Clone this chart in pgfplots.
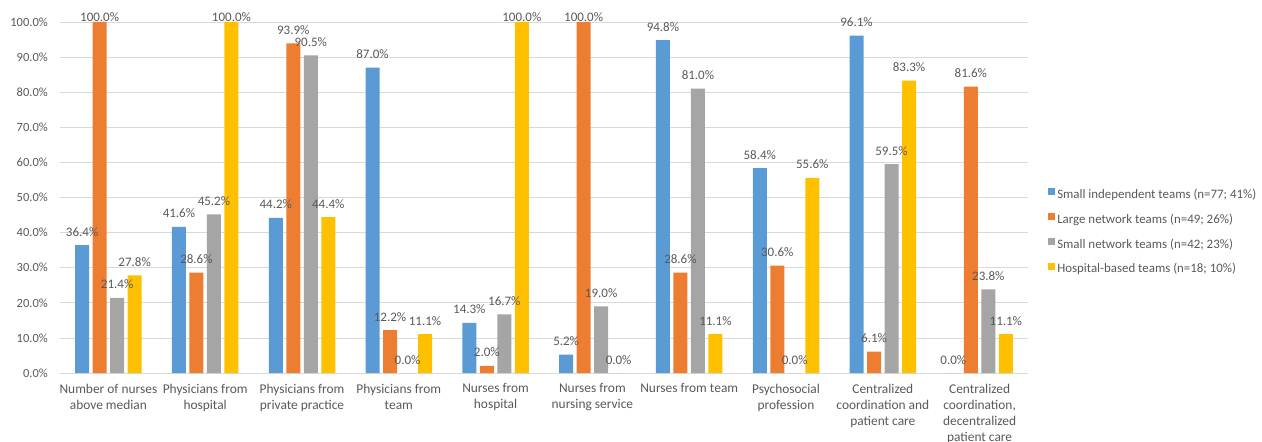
\documentclass[border=0pt]{standalone}
\usepackage{pgfplots}
\pgfplotsset{compat=1.18}
\usepackage{fontspec}
\setmainfont{Carlito}
\definecolor{cblue}{HTML}{5B9BD5}
\definecolor{corange}{HTML}{ED7D31}
\definecolor{cgray}{HTML}{A5A5A5}
\definecolor{cgold}{HTML}{FFC000}
\definecolor{textgray}{HTML}{595959}
\definecolor{gridgray}{HTML}{D9D9D9}
\begin{document}
\begin{tikzpicture}
\begin{axis}[name=ax, scale only axis, width=968pt, height=351pt,
  ybar=3.5pt, bar width=14pt,
  xmin=-0.5, xmax=9.5, ymin=0, ymax=100,
  xtick={0,...,9},
  xticklabels={{Number of nurses\\above median},{Physicians from\\hospital},{Physicians from\\private practice},{Physicians from\\team},{Nurses from\\hospital},{Nurses from\\nursing service},{Nurses from team},{Psychosocial\\profession},{Centralized\\coordination and\\patient care},{Centralized\\coordination,\\decentralized\\patient care}},
  ytick={0,10,...,100},
  ymajorgrids, major grid style={color=gridgray, line width=0.75pt},
  axis line style={draw=none},
  major tick length=0pt,
  /pgf/number format/assume math mode=true,
  yticklabel={\pgfmathprintnumber[fixed,fixed zerofill,precision=1]{\tick}\%},
  yticklabel style={font=\fontsize{12.5}{15}\selectfont, text=textgray, inner sep=0pt, xshift=-12pt},
  xticklabel style={font=\fontsize{13.4}{16}\selectfont, text=textgray, align=center, inner sep=0pt, yshift=-10.5pt, anchor=north},
  nodes near coords={\pgfmathprintnumber[fixed,fixed zerofill,precision=1]{\pgfplotspointmeta}\%},
  visualization depends on=rawy\as\rawy,
  every node near coord/.append style={font=\fontsize{13}{15}\selectfont, text=textgray, anchor=base, inner sep=0pt, yshift={ifthenelse(\rawy>99.9,0,9)*1pt}},
  legend style={at={(1.0207,0.4014)}, anchor=west, draw=none, fill=none, inner sep=0pt,
    font=\fontsize{12.9}{15}\selectfont, text=textgray, row sep=11.8pt,
    nodes={inner sep=0pt, text height=9pt, text depth=3pt},
    /tikz/every odd column/.append style={column sep=2pt}},
  legend cell align=left,
  legend image code/.code={\fill[#1] (0pt,0pt) rectangle (7pt,7pt);},
]
\addplot[fill=cblue, draw=none] coordinates {(0,36.4) (1,41.6) (2,44.2) (3,87.0) (4,14.3) (5,5.2) (6,94.8) (7,58.4) (8,96.1) (9,0.0)};
\addplot[fill=corange, draw=none] coordinates {(0,100.0) (1,28.6) (2,93.9) (3,12.2) (4,2.0) (5,100.0) (6,28.6) (7,30.6) (8,6.1) (9,81.6)};
\addplot[fill=cgray, draw=none] coordinates {(0,21.4) (1,45.2) (2,90.5) (3,0.0) (4,16.7) (5,19.0) (6,81.0) (7,0.0) (8,59.5) (9,23.8)};
\addplot[fill=cgold, draw=none] coordinates {(0,27.8) (1,100.0) (2,44.4) (3,11.1) (4,100.0) (5,0.0) (6,11.1) (7,55.6) (8,83.3) (9,11.1)};
\legend{Small independent teams (n=77; 41\%),Large network teams (n=49; 26\%),Small network teams (n=42; 23\%),Hospital-based teams (n=18; 10\%)}
\end{axis}
\pgfresetboundingbox
\path[use as bounding box] ([shift={(-60pt,-69pt)}]ax.south west) rectangle ([shift={(1202pt,373pt)}]ax.south west);
\end{tikzpicture}
\end{document}
